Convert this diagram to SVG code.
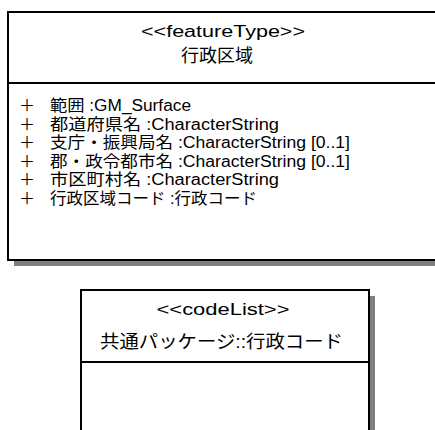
<svg xmlns="http://www.w3.org/2000/svg" width="435" height="430" viewBox="0 0 435 430">
<style>
.box{fill:#fff;stroke:#000;stroke-width:2}
.sh{fill:#808080}
.sep{stroke:#000;stroke-width:2}
text{font-family:"Liberation Sans","Noto Sans CJK JP",sans-serif;fill:#000}
.st{font-size:16px;text-anchor:middle}
.nm{font-size:18px;text-anchor:middle}
.at{font-size:16px}
</style>
<rect width="435" height="430" fill="#fff"/>
<g id="gyosei-kuiki">
<rect class="sh" x="14" y="18" width="432" height="248"/>
<rect class="box" x="8" y="12" width="432" height="248"/>
<line class="sep" x1="8" y1="83" x2="440" y2="83"/>
<text class="st" x="223" y="37" textLength="164" lengthAdjust="spacingAndGlyphs">&lt;&lt;featureType&gt;&gt;</text>
<text class="nm" x="217" y="62">行政区域</text>
<text class="at" x="19" y="111">＋</text>
<text class="at" x="19" y="129.5">＋</text>
<text class="at" x="19" y="148">＋</text>
<text class="at" x="19" y="166.5">＋</text>
<text class="at" x="19" y="185">＋</text>
<text class="at" x="19" y="203.5">＋</text>
<text class="at" x="50" y="111" textLength="141" lengthAdjust="spacingAndGlyphs">範囲 :GM_Surface</text>
<text class="at" x="50" y="129.5" textLength="229" lengthAdjust="spacingAndGlyphs">都道府県名 :CharacterString</text>
<text class="at" x="50" y="148" textLength="300" lengthAdjust="spacingAndGlyphs">支庁・振興局名 :CharacterString [0..1]</text>
<text class="at" x="50" y="166.5" textLength="300" lengthAdjust="spacingAndGlyphs">郡・政令都市名 :CharacterString [0..1]</text>
<text class="at" x="50" y="185" textLength="229" lengthAdjust="spacingAndGlyphs">市区町村名 :CharacterString</text>
<text class="at" x="50" y="203.5" textLength="207" lengthAdjust="spacingAndGlyphs">行政区域コード :行政コード</text>
</g>
<g id="gyosei-code">
<rect class="sh" x="86" y="296" width="289" height="150"/>
<rect class="box" x="81" y="290" width="288" height="150"/>
<line class="sep" x1="81" y1="362" x2="369" y2="362"/>
<text class="st" x="223" y="315" textLength="133" lengthAdjust="spacingAndGlyphs">&lt;&lt;codeList&gt;&gt;</text>
<text class="nm" x="221.5" y="348" textLength="243" lengthAdjust="spacingAndGlyphs">共通パッケージ::行政コード</text>
</g>
<g id="connectors"/>
</svg>
